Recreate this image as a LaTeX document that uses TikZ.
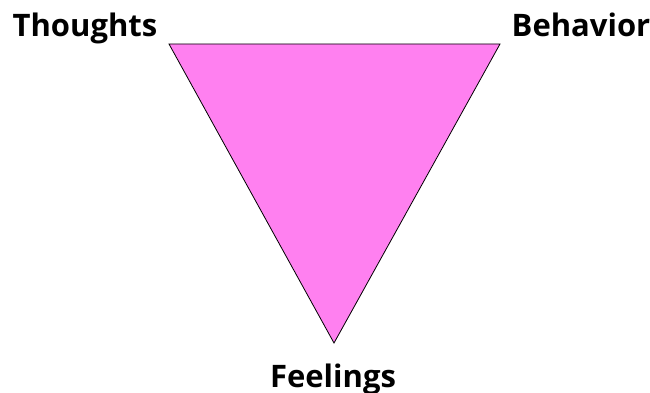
\documentclass[tikz,border=0pt]{standalone}
\usepackage{fontspec}
\setmainfont{Open Sans}
\definecolor{tri}{HTML}{FF80F0}
\begin{document}
\begin{tikzpicture}[x=1pt,y=-1pt,
  lbl/.style={font=\fontsize{31}{36}\selectfont\bfseries, inner sep=0pt, anchor=base}]
\useasboundingbox (0,0) rectangle (650,393);
\coordinate (tl) at (169,44);
\coordinate (tr) at (500,44);
\coordinate (bt) at (334,343);
\draw[fill=tri, line width=0.8pt, line join=miter] (tl) -- (tr) -- (bt) -- cycle;
\node[lbl] (thoughts) at (85,37) {Thoughts};
\node[lbl] (behavior) at (581,37) {Behavior};
\node[lbl] (feelings) at (333,387) {Feelings};
\end{tikzpicture}
\end{document}
